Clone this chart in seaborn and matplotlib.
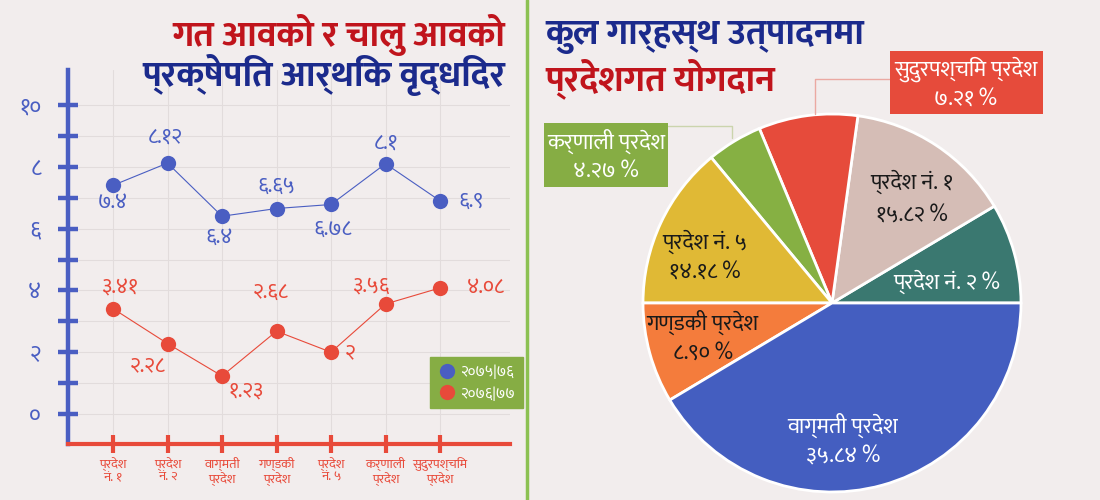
import matplotlib
matplotlib.use("Agg")
import matplotlib.pyplot as plt
from matplotlib import font_manager as fm
from matplotlib.lines import Line2D
from matplotlib.patches import Rectangle
import seaborn as sns
import pandas as pd
import os

# ---------------- data ----------------
categories = ["प्रदेश\nनं. १", "प्रदेश\nनं. २", "वाग्मती\nप्रदेश", "गण्डकी\nप्रदेश",
              "प्रदेश\nनं. ५", "कर्णाली\nप्रदेश", "सुदुरपश्चिम\nप्रदेश"]
growth_7576 = [7.4, 8.12, 6.4, 6.65, 6.78, 8.1, 6.9]
growth_7677 = [3.41, 2.28, 1.23, 2.68, 2.0, 3.56, 4.08]
label_7576 = ["७.४", "८.१२", "६.४", "६.६५", "६.७८", "८.१", "६.९"]
label_7677 = ["३.४१", "२.२८", "१.२३", "२.६८", "२", "३.५६", "४.०८"]
series_names = ["२०७५|७६", "२०७६|७७"]
y_ticks = [0, 1, 2, 3, 4, 5, 6, 7, 8, 9, 10]
y_ticklabels = ["०", "", "२", "", "४", "", "६", "", "८", "", "१०"]

pie_regions = ["प्रदेश नं. २", "प्रदेश नं. १", "सुदुरपश्चिम प्रदेश", "कर्णाली प्रदेश",
               "प्रदेश नं. ५", "गण्डकी प्रदेश", "वाग्मती प्रदेश"]
pie_shares = [8.56, 14.25, 8.47, 4.75, 13.97, 8.58, 41.42]   # wedge sizes as drawn
pie_pct_text = ["", "१५.८२", "७.२१", "४.२७", "१४.१८", "८.९०", "३५.८४"]

title_left = ["गत आवको र चालु आवको", "प्रक्षेपित आर्थिक वृद्धिदर"]
title_right = ["कुल गार्हस्थ उत्पादनमा", "प्रदेशगत योगदान"]

# ---------------- fonts ----------------
def find_font(patterns):
    files = fm.findSystemFonts()
    for p in patterns:
        for f in files:
            if os.path.basename(f).lower() == p.lower():
                return f
    return None

reg = find_font(["Mukta-Regular.ttf", "Hind-Regular.ttf", "NotoSansDevanagari-Regular.ttf",
                 "Poppins-Regular.ttf", "FreeSans.ttf"])
bold = find_font(["Mukta-Bold.ttf", "Hind-Bold.ttf", "NotoSansDevanagari-Bold.ttf",
                  "Poppins-Bold.ttf", "FreeSansBold.ttf"])
fam = "DejaVu Sans"
for f in [reg, bold]:
    if f:
        try:
            fm.fontManager.addfont(f)
        except Exception:
            pass
if reg:
    fam = fm.FontProperties(fname=reg).get_name()

sns.set_theme(style="white")
plt.rcParams["font.family"] = [fam, "DejaVu Sans"]
FAM = [fam, "DejaVu Sans"]

BG = "#f2eded"
BLUE = "#4a5ec2"
RED = "#e84a3a"
DBLUE = "#1b2a8c"
DRED = "#c0141c"
GREEN = "#86ad44"

W, H = 1100, 500
fig = plt.figure(figsize=(11, 5), dpi=100, facecolor=BG)

def px_axes(x0, y0, x1, y1):
    return fig.add_axes([x0 / W, 1 - y1 / H, (x1 - x0) / W, (y1 - y0) / H])

def fx(px):
    return px / W

def fy(py):
    return 1 - py / H

# ---------------- left line chart ----------------
ax = px_axes(68, 70, 510, 444)
ax.set_facecolor(BG)
x0px, dxpx = 113, 54.5
y0px, dypx = 414, 30.9
ax.set_xlim(-45 / dxpx, (510 - x0px) / dxpx)
ax.set_ylim((y0px - 444) / dypx, (y0px - 70) / dypx)

df = pd.DataFrame({
    "x": list(range(len(categories))) * 2,
    "value": growth_7576 + growth_7677,
    "series": [series_names[0]] * len(categories) + [series_names[1]] * len(categories),
})
sns.lineplot(data=df, x="x", y="value", hue="series", palette=[BLUE, RED],
             marker="o", markersize=11, markeredgewidth=0, linewidth=0.8,
             ax=ax, legend=False, zorder=3)

ax.grid(True, color="#e2dcdc", linewidth=0.8)
ax.set_xticks(range(len(categories)))
ax.set_xticklabels(categories, fontsize=9.5, color=RED, family=FAM, linespacing=1.1)
ax.set_yticks(y_ticks)
ax.set_yticklabels(y_ticklabels, fontsize=16.5, color=BLUE, family=FAM)
ax.tick_params(axis="y", left=True, direction="inout", length=15, width=3.2,
               color=BLUE, pad=12)
ax.tick_params(axis="x", bottom=True, direction="inout", length=13, width=3,
               color=RED, pad=3)
ax.set_xlabel("")
ax.set_ylabel("")
for s in ["top", "right"]:
    ax.spines[s].set_visible(False)
ax.spines["left"].set_color(BLUE)
ax.spines["left"].set_linewidth(3.2)
ax.spines["bottom"].set_color(RED)
ax.spines["bottom"].set_linewidth(3)

# point annotations (offsets in points)
off_7576 = [(0, -12, "center"), (-2, 19, "center"), (-2, -15, "center"), (0, 16, "center"),
            (1, -18, "center"), (0, 15, "center"), (13, 0, "left")]
off_7677 = [(5, 15, "center"), (-14, -16, "center"), (17, -11, "center"), (-4, 28, "center"),
            (10, 0, "left"), (-10, 13, "center"), (19, 0, "left")]
for i in range(len(categories)):
    dx, dy, ha = off_7576[i]
    ax.annotate(label_7576[i], (i, growth_7576[i]), xytext=(dx, dy), textcoords="offset points",
                ha=ha, va="center", fontsize=15.5, color=BLUE, family=FAM, zorder=5)
    dx, dy, ha = off_7677[i]
    ax.annotate(label_7677[i], (i, growth_7677[i]), xytext=(dx, dy), textcoords="offset points",
                ha=ha, va="center", fontsize=15.5, color=RED, family=FAM, zorder=5)

handles = [Line2D([], [], marker="o", linestyle="", markersize=11, markeredgewidth=0,
                  color=c) for c in [BLUE, RED]]
leg = fig.legend(handles, series_names, loc="upper left",
                 bbox_to_anchor=(fx(430), fy(357)), frameon=True, fancybox=False,
                 facecolor=GREEN, edgecolor=GREEN, framealpha=1.0,
                 prop={"family": FAM, "size": 11}, labelcolor="white",
                 handletextpad=0.3, borderpad=0.5, labelspacing=0.45,
                 handlelength=1.2, borderaxespad=0)

# left titles
fig.text(fx(505), fy(35), title_left[0], ha="right", va="center", fontsize=26,
         fontweight="bold", color=DRED, family=FAM)
fig.text(fx(505), fy(75), title_left[1], ha="right", va="center", fontsize=26,
         fontweight="bold", color=DBLUE, family=FAM)

# divider
fig.add_artist(Line2D([fx(527), fx(527)], [0, 1], color="#8cc152", linewidth=2.5))

# ---------------- right pie chart ----------------
cx, cy, R = 832, 303, 189
pax = px_axes(cx - R, cy - R, cx + R, cy + R)
pax.set_facecolor("none")
pie_colors = ["#3a7870", "#d5bdb6", "#e64b3b", "#86b043", "#e0b935", "#f47c3c", "#445ec0"]
pax.pie(pie_shares, colors=pie_colors, startangle=0, counterclock=True, radius=1,
        wedgeprops={"edgecolor": "white", "linewidth": 2})
pax.set_xlim(-1, 1)
pax.set_ylim(-1, 1)
pax.set_aspect("equal")
pax.axis("off")

def d(px, py):
    return ((px - cx) / R, (cy - py) / R)

def ptext(px, py, s, color, size=16):
    x, y = d(px, py)
    pax.text(x, y, s, ha="center", va="center", fontsize=size, color=color,
             family=FAM, clip_on=False, zorder=6)

ptext(947, 282, pie_regions[0] + " %", "white")
ptext(912, 182, pie_regions[1], "#1a1a1a")
ptext(912, 215, pie_pct_text[1] + " %", "#1a1a1a")
ptext(705, 242, pie_regions[4], "#1a1a1a")
ptext(705, 272, pie_pct_text[4] + " %", "#1a1a1a")
ptext(702, 322, pie_regions[5], "#1a1a1a")
ptext(703, 353, pie_pct_text[5] + " %", "#1a1a1a")
ptext(843, 425, pie_regions[6], "white")
ptext(843, 457, pie_pct_text[6] + " %", "white")

# callout boxes
def box(x0, y0, x1, y1, color):
    fig.add_artist(Rectangle((fx(x0), fy(y1)), (x1 - x0) / W, (y1 - y0) / H,
                             facecolor=color, edgecolor="none", zorder=5))

box(890, 51, 1043, 114, "#e64b3b")
fig.text(fx(966), fy(69), pie_regions[2], ha="center", va="center", fontsize=16,
         color="white", family=FAM, zorder=6)
fig.text(fx(966), fy(99), pie_pct_text[2] + " %", ha="center", va="center", fontsize=16,
         color="white", family=FAM, zorder=6)
fig.add_artist(Line2D([fx(890), fx(815), fx(815)], [fy(79), fy(79), fy(114)],
                      color="#eba9a2", linewidth=1))

box(544, 123, 668, 187, GREEN)
fig.text(fx(606), fy(141), pie_regions[3], ha="center", va="center", fontsize=16,
         color="white", family=FAM, zorder=6)
fig.text(fx(606), fy(172), pie_pct_text[3] + " %", ha="center", va="center", fontsize=16,
         color="white", family=FAM, zorder=6)
fig.add_artist(Line2D([fx(668), fx(732), fx(732)], [fy(126), fy(126), fy(138)],
                      color="#cbd4ad", linewidth=1))

# right titles
fig.text(fx(545), fy(37), title_right[0], ha="left", va="center", fontsize=26,
         fontweight="bold", color=DBLUE, family=FAM)
fig.text(fx(545), fy(79), title_right[1], ha="left", va="center", fontsize=26,
         fontweight="bold", color=DRED, family=FAM)

fig.savefig("out.png", dpi=100, facecolor=BG)
